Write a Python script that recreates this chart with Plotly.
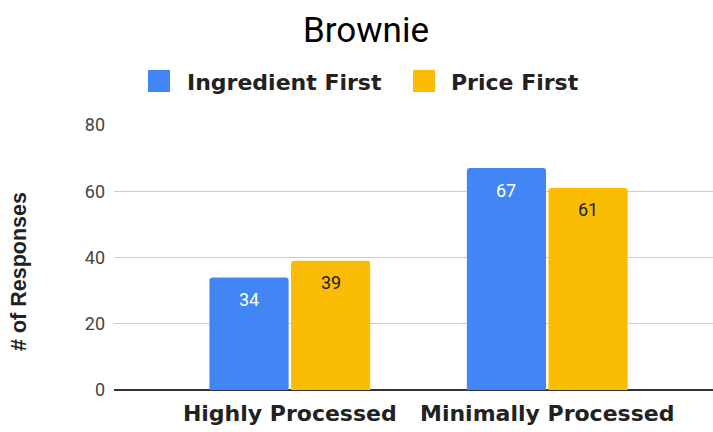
import plotly.graph_objects as go

categories = ["Highly Processed", "Minimally Processed"]
series_names = ["Ingredient First", "Price First"]
ingredient_first = [34, 67]
price_first = [39, 61]
y_ticks = [0, 20, 40, 60, 80]

colors = ["#4285F4", "#FBBC04"]
label_colors = ["#FFFFFF", "#202124"]

W, H = 713, 432
L, R, T, B = 114, 0, 125, 42
pw, ph = W - L - R, H - T - B


def px2paper_x(px):
    return (px - L) / pw


def px2paper_y(py):
    return (H - B - py) / ph


fig = go.Figure()
annotations = []
offsets = [-41, 41]
for name, vals, col, lc, off in zip(series_names, [ingredient_first, price_first],
                                    colors, label_colors, offsets):
    fig.add_trace(go.Bar(
        x=categories, y=vals, name=name,
        marker=dict(color=col, line=dict(width=0), cornerradius=3),
        showlegend=False,
    ))
    for c, v in zip(categories, vals):
        annotations.append(dict(x=c, y=v, xref="x", yref="y", text=str(v),
                                showarrow=False, xshift=off, yshift=-22,
                                xanchor="center", yanchor="middle",
                                font=dict(family="Roboto", size=18, color=lc)))

# manual legend (large square swatches)
legend_items = [(148, 185), (413, 449)]
shapes = []
for (sx, tx), name, col in zip(legend_items, series_names, colors):
    shapes.append(dict(type="rect", xref="paper", yref="paper",
                       x0=px2paper_x(sx), x1=px2paper_x(sx + 22),
                       y0=px2paper_y(92), y1=px2paper_y(70),
                       fillcolor=col, line=dict(width=0)))
    annotations.append(dict(text=name, xref="paper", yref="paper",
                            x=px2paper_x(tx), y=px2paper_y(82),
                            xanchor="left", yanchor="middle", showarrow=False,
                            font=dict(family="DejaVu Sans", size=22, color="#222222",
                                      weight="bold")))

annotations.append(dict(text="# of Responses", xref="paper", yref="paper",
                        x=px2paper_x(19), y=px2paper_y(272), textangle=-90,
                        xanchor="center", yanchor="middle", showarrow=False,
                        font=dict(family="Liberation Sans", size=21.5, color="#222222",
                                  weight="bold")))

fig.update_layout(
    width=W, height=H,
    margin=dict(l=L, r=R, t=T, b=B),
    paper_bgcolor="white", plot_bgcolor="white",
    title=dict(text="Brownie", x=366 / W, xanchor="center",
               y=1 - 30 / H, yanchor="middle",
               font=dict(family="Roboto", size=35, color="#000000")),
    barmode="group", bargap=0.366, bargroupgap=0.03,
    shapes=shapes, annotations=annotations,
    xaxis=dict(range=[-0.683, 1.644], showgrid=False, showline=False,
               ticks="", ticklabelstandoff=8,
               tickfont=dict(family="DejaVu Sans", size=22, color="#222222",
                             weight="bold")),
    yaxis=dict(range=[0, 80], tickvals=y_ticks, showgrid=True, gridcolor="#CCCCCC",
               gridwidth=1, zeroline=True, zerolinecolor="#333333", zerolinewidth=1.5,
               showline=False, ticks="", ticklabelstandoff=8,
               tickfont=dict(family="Roboto", size=18, color="#444444")),
)

fig.write_html("out.html")
